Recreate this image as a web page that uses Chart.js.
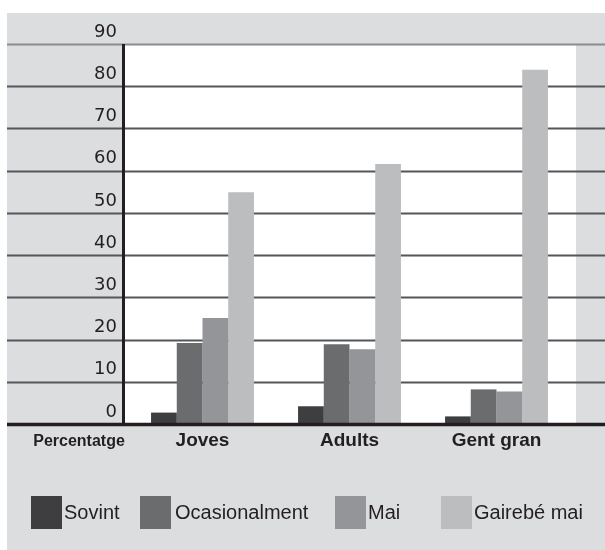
<!DOCTYPE html>
<html>
<head>
<meta charset="utf-8">
<script src="https://cdn.jsdelivr.net/npm/chart.js@4.4.1/dist/chart.umd.min.js"></script>
<style>
    html, body { margin: 0; padding: 0; background: #fff; }
    canvas { display: block; }
</style>
</head>
<body>
<canvas id="chart" width="605" height="550"></canvas>
<script>
// data
const categories = ["Joves", "Adults", "Gent gran"];
const seriesNames = ["Sovint", "Ocasionalment", "Mai", "Gairebé mai"];
const sovint = [2.7, 4.2, 1.8];
const ocasionalment = [19.2, 18.9, 8.2];
const mai = [25.1, 17.7, 7.7];
const gairebeMai = [54.9, 61.6, 83.9];
const yMin = 0, yMax = 90, yStep = 10;
const axisTitle = "Percentatge";

const seriesColors = ["#3e3e40", "#6b6c6e", "#939598", "#bcbdbf"];
const panelGray = "#dcdddf";
const ink = "#231f20";

// background panel, white plot area and full-width grid lines
const backdrop = {
    id: "backdrop",
    beforeDraw(chart) {
        const { ctx, chartArea } = chart;
        ctx.save();
        ctx.fillStyle = panelGray;
        ctx.fillRect(7, 13, chart.width - 7, chart.height - 13);
        ctx.fillStyle = "#ffffff";
        ctx.fillRect(125, chartArea.top, 576 - 125, chartArea.bottom - chartArea.top);
        ctx.restore();
    },
    beforeDatasetsDraw(chart) {
        const { ctx } = chart;
        const y = chart.scales.y;
        ctx.save();
        y.ticks.forEach((t) => {
            const py = Math.round(y.getPixelForValue(t.value)) + 0.5;
            ctx.strokeStyle = t.value === yMax ? "#8a8b8d" : "#55565a";
            ctx.lineWidth = 2;
            ctx.beginPath();
            ctx.moveTo(7, py);
            ctx.lineTo(chart.width, py);
            ctx.stroke();
        });
        ctx.restore();
    },
    afterDatasetsDraw(chart) {
        const { ctx, chartArea } = chart;
        const y = chart.scales.y;
        const base = y.getPixelForValue(0);
        ctx.save();
        ctx.strokeStyle = ink;
        // vertical axis
        ctx.lineWidth = 3;
        ctx.beginPath();
        ctx.moveTo(123.5, chartArea.top);
        ctx.lineTo(123.5, base);
        ctx.stroke();
        // baseline
        ctx.lineWidth = 3.5;
        ctx.beginPath();
        ctx.moveTo(7, base + 0.5);
        ctx.lineTo(chart.width, base + 0.5);
        ctx.stroke();
        ctx.restore();
    }
};

// category labels under the groups and the legend row
const labelsAndLegend = {
    id: "labelsAndLegend",
    afterDraw(chart) {
        const { ctx } = chart;
        const x = chart.scales.x;
        ctx.save();
        ctx.fillStyle = ink;
        ctx.textBaseline = "middle";
        ctx.textAlign = "center";
        ctx.font = "bold 19px 'Liberation Sans', Arial, sans-serif";
        chart.data.labels.forEach((lab, i) => {
            ctx.fillText(lab, x.getPixelForValue(i), 441);
        });
        ctx.font = "bold 16px 'Liberation Sans', Arial, sans-serif";
        ctx.fillText(axisTitle, 79, 442);

        const boxX = [31, 140, 335, 441];
        const textX = [64, 175, 368, 474];
        ctx.textAlign = "left";
        ctx.font = "20px 'Liberation Sans', Arial, sans-serif";
        chart.data.datasets.forEach((ds, i) => {
            ctx.fillStyle = ds.backgroundColor;
            ctx.fillRect(boxX[i], 496, 31, 33);
            ctx.fillStyle = ink;
            ctx.fillText(ds.label, textX[i], 513);
        });
        ctx.restore();
    }
};

const values = [sovint, ocasionalment, mai, gairebeMai];

new Chart(document.getElementById("chart"), {
    type: "bar",
    data: {
        labels: categories,
        datasets: seriesNames.map((name, i) => ({
            label: name,
            data: values[i],
            backgroundColor: seriesColors[i],
            borderWidth: 0,
            categoryPercentage: 0.7,
            barPercentage: 1.0
        }))
    },
    options: {
        responsive: false,
        animation: false,
        devicePixelRatio: 1,
        layout: {
            padding: { left: 7, right: 35, top: 44, bottom: 126 }
        },
        plugins: {
            legend: { display: false },
            tooltip: { enabled: false }
        },
        scales: {
            x: {
                display: false
            },
            y: {
                min: yMin,
                max: yMax,
                grid: { display: false, drawTicks: false },
                border: { display: false },
                afterFit: (scale) => { scale.width = 122; },
                ticks: {
                    stepSize: yStep,
                    padding: 12,
                    labelOffset: -12,
                    color: ink,
                    font: { family: "'DejaVu Sans', sans-serif", size: 18 }
                }
            }
        }
    },
    plugins: [backdrop, labelsAndLegend]
});
</script>
</body>
</html>
